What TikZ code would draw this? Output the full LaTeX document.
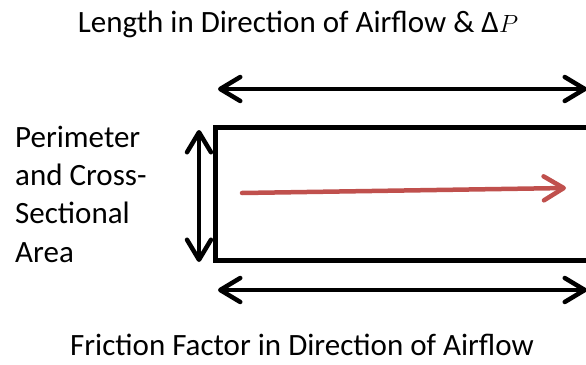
\documentclass[tikz,border=0pt]{standalone}
\usepackage{fontspec}
\setmainfont{Carlito}
\usetikzlibrary{arrows.meta}
\definecolor{flowred}{RGB}{192,80,77}
\tikzset{
  barb/.tip={Straight Barb[length=20pt,width=24pt,line cap=round,line join=round]},
  dimarrow/.style={line width=4.5pt,{barb}-{barb}},
  flowarrow/.style={line width=4.5pt,draw=flowred,line cap=round,-{barb}},
  lbl/.style={font=\fontsize{31}{38.3}\selectfont,inner sep=0pt},
  duct/.style={draw,line width=4.5pt}
}
\begin{document}
\begin{tikzpicture}[x=1pt,y=-1pt]
\useasboundingbox (0,0) rectangle (586,364);
\fill[white] (0,0) rectangle (586,364);
% texts
\node[lbl,anchor=base] (title) at (298,32) {Length in Direction of Airflow \& Δ$P$};
\node[lbl,anchor=base,text depth=0pt] (fric) at (302,355) {Friction Factor in Direction of Airflow};
\node[lbl,align=left,anchor=base west] (perim) at (15,262) {Perimeter\\and Cross-\\Sectional\\Area};
% duct
\node[duct,minimum width=380pt,minimum height=133pt,anchor=north west] (ductbox) at (213,125) {};
% arrow end points
\coordinate (tl) at (218,89);
\coordinate (tr) at (587,89);
\coordinate (bl) at (218,290);
\coordinate (br) at (587,290);
\coordinate (vt) at (199,130);
\coordinate (vb) at (199,262);
\coordinate (fs) at (242,193);
\coordinate (fe) at (566,188);
\draw[dimarrow] (tl) -- (tr);
\draw[dimarrow] (bl) -- (br);
\draw[dimarrow] (vt) -- (vb);
\draw[flowarrow] (fs) -- (fe);
\end{tikzpicture}
\end{document}
